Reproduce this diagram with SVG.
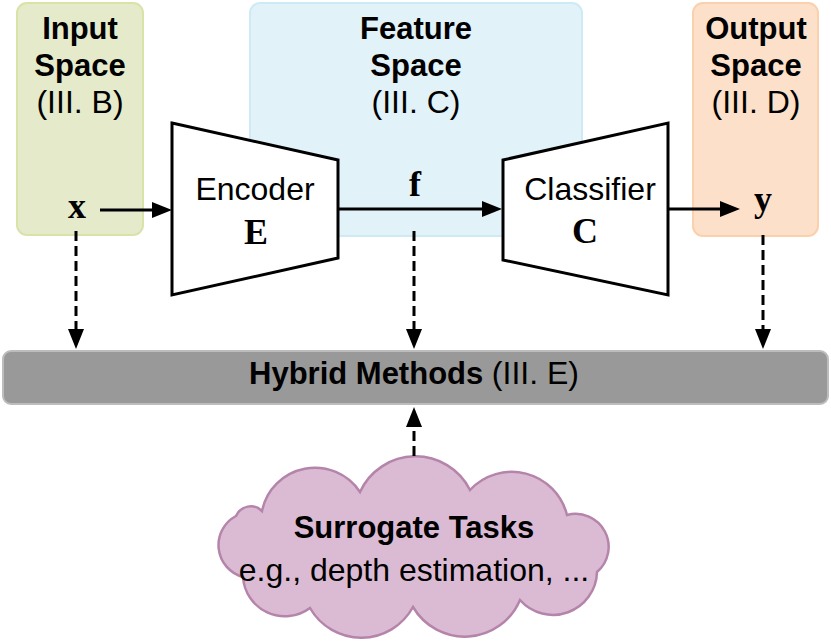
<svg xmlns="http://www.w3.org/2000/svg" width="831" height="644" viewBox="0 0 831 644">
<style>
.b{font-family:"Liberation Sans",Arial,sans-serif;font-weight:bold;font-size:31px;fill:#000;text-anchor:middle}
.n{font-family:"Liberation Sans",Arial,sans-serif;font-size:32px;fill:#000;text-anchor:middle}
.m{font-family:"Liberation Serif","Times New Roman",serif;font-weight:bold;font-size:36px;fill:#000;text-anchor:middle}
.solid{stroke:#000;stroke-width:3;fill:none}
.dash{stroke:#000;stroke-width:3;fill:none;stroke-dasharray:10 5}
.trap{fill:#fff;stroke:#000;stroke-width:3;stroke-linejoin:miter}
</style>
<defs>
<marker id="ah" markerUnits="userSpaceOnUse" markerWidth="20" markerHeight="16" refX="10" refY="8" orient="auto">
<path d="M0,0 L20,8 L0,16 z" fill="#000"/>
</marker>
</defs>
<g id="input-space">
<rect x="17" y="3" width="126" height="232" rx="10" fill="#e5eacb" stroke="#d8e3aa" stroke-width="2"/>
<text class="b" x="80" y="39">Input</text>
<text class="b" x="80" y="76">Space</text>
<text class="n" x="80" y="113">(III. B)</text>
</g>
<g id="feature-space">
<rect x="250" y="3" width="332" height="233" rx="10" fill="#e1f2f8" stroke="#cfeaf4" stroke-width="2"/>
<text class="b" x="416" y="39">Feature</text>
<text class="b" x="416" y="76">Space</text>
<text class="n" x="416" y="113">(III. C)</text>
</g>
<g id="output-space">
<rect x="693" y="3" width="125" height="233" rx="10" fill="#fde0c9" stroke="#fbd0ac" stroke-width="2"/>
<text class="b" x="756" y="39">Output</text>
<text class="b" x="756" y="76">Space</text>
<text class="n" x="756" y="113">(III. D)</text>
</g>
<g id="x-node"><text class="m" x="77" y="218">x</text></g>
<g id="f-node"><text class="m" x="415" y="196">f</text></g>
<g id="y-node"><text class="m" x="763" y="211">y</text></g>
<g id="encoder">
<polygon class="trap" points="172,123 338,160 338,258 172,295"/>
<text class="n" x="255" y="200">Encoder</text>
<text class="m" x="256" y="244">E</text>
</g>
<g id="classifier">
<polygon class="trap" points="503,160 668,123 668,295 503,260"/>
<text class="n" x="590" y="200">Classifier</text>
<text class="m" x="585" y="243">C</text>
</g>
<g id="hybrid">
<rect x="3" y="351" width="825" height="53" rx="8" fill="#999999" stroke="#bdbdbd" stroke-width="2"/>
<text class="b" x="414" y="384">Hybrid Methods <tspan style="font-weight:normal;font-size:32px">(III. E)</tspan></text>
</g>
<g id="surrogate">
<path d="M262,511 A54,54 0 0 1 360,492 A61,61 0 0 1 470,490 A57,57 0 0 1 567,515 A33,33 0 0 1 597,572 A44,44 0 0 1 520,600 A60,60 0 0 1 413,607 A59,59 0 0 1 310,608 A42,42 0 0 1 243,577 A33,33 0 0 1 236,516 A16,16 0 0 1 262,511 Z" fill="#dbbbd3" stroke="#b584aa" stroke-width="2.5"/>
<text class="b" x="414" y="538">Surrogate Tasks</text>
<text class="n" x="414" y="581">e.g., depth estimation, ...</text>
</g>
<g id="connectors">
<line class="solid" x1="100" y1="210" x2="162" y2="210" marker-end="url(#ah)"/>
<line class="solid" x1="338" y1="209" x2="492" y2="209" marker-end="url(#ah)"/>
<line class="solid" x1="668" y1="209" x2="730" y2="209" marker-end="url(#ah)"/>
<line class="dash" x1="76" y1="231" x2="76" y2="339" marker-end="url(#ah)"/>
<line class="dash" x1="414" y1="231" x2="414" y2="339" marker-end="url(#ah)"/>
<line class="dash" x1="763" y1="235" x2="763" y2="339" marker-end="url(#ah)"/>
<line class="dash" x1="414" y1="456" x2="414" y2="417" marker-end="url(#ah)"/>
</g>
</svg>
